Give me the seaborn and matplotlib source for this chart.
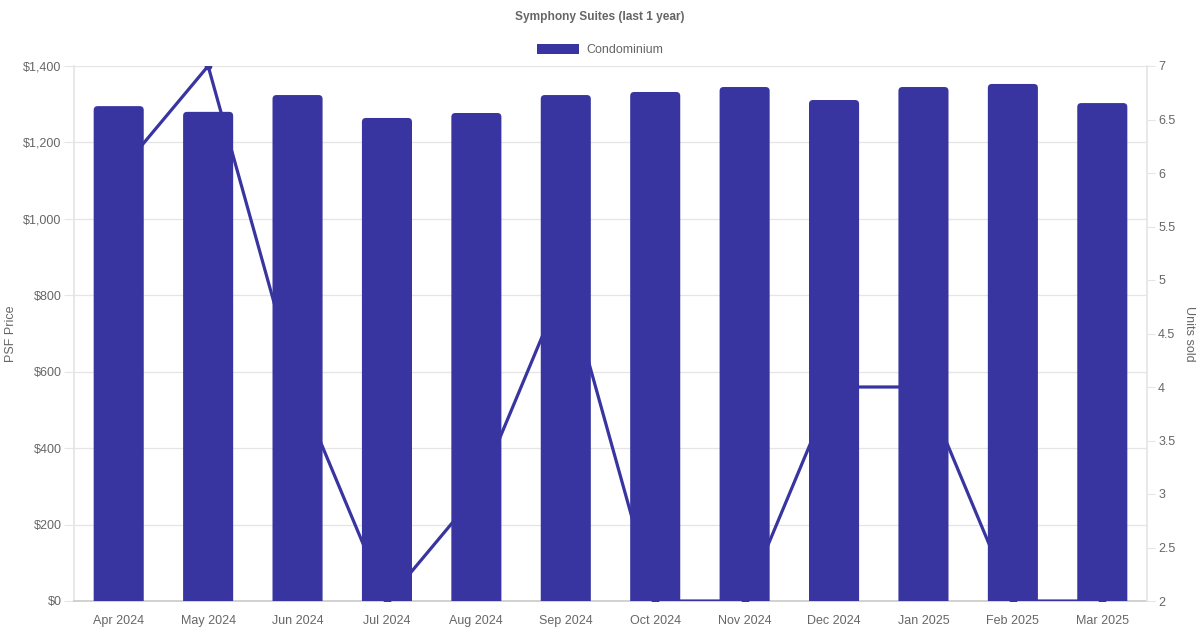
import matplotlib
matplotlib.use("Agg")
import matplotlib.pyplot as plt
import seaborn as sns
import pandas as pd
from matplotlib.patches import FancyBboxPatch, Patch
from matplotlib.ticker import FuncFormatter, MultipleLocator

months = ["Apr 2024", "May 2024", "Jun 2024", "Jul 2024", "Aug 2024", "Sep 2024",
          "Oct 2024", "Nov 2024", "Dec 2024", "Jan 2025", "Feb 2025", "Mar 2025"]
psf_price = [1295, 1280, 1324, 1264, 1277, 1324, 1332, 1345, 1311, 1345, 1353, 1303]
units_sold = [6, 7, 4, 2, 3, 5, 2, 2, 4, 4, 2, 2]

title = "Symphony Suites (last 1 year)"
series_name = "Condominium"

df = pd.DataFrame({"month": months, "psf": psf_price, "units": units_sold})

COLOR = "#3935A0"
TEXT = "#666666"
GRID = "#e5e5e5"
FS = 9

sns.set_theme(style="white")
plt.rcParams["font.family"] = ["Liberation Sans", "DejaVu Sans"]

fig = plt.figure(figsize=(12, 6.3), dpi=100)
rect = [74 / 1200, 1 - 601 / 630, (1147 - 74) / 1200, (601 - 66) / 630]

ax = fig.add_axes(rect)
ax2 = ax.twinx()
ax3 = fig.add_axes(rect, sharex=ax, sharey=ax)
ax3.patch.set_visible(False)

# line (units sold) on right axis, underneath bars
sns.lineplot(data=df, x="month", y="units", ax=ax2, color=COLOR, linewidth=2.3,
             marker="o", markersize=5.5, markeredgewidth=0, sort=False)
ax2.set_ylim(2, 7)
ax2.yaxis.set_major_locator(MultipleLocator(0.5))
ax2.yaxis.set_major_formatter(FuncFormatter(lambda v, p: f"{v:g}"))
ax2.tick_params(axis="y", colors=TEXT, labelsize=FS, length=6, width=0.8, color=GRID, pad=2)
for s in ax2.spines.values():
    s.set_visible(False)
ax2.spines["right"].set_visible(True)
ax2.spines["right"].set_color(GRID)
ax2.set_ylabel("")
fig.text(1189 / 1200, 1 - 334 / 630, "Units sold", rotation=270, ha="center", va="center",
         color=TEXT, fontsize=FS)

# bars (PSF) on top
sns.barplot(data=df, x="month", y="psf", ax=ax3, color=COLOR, width=0.56,
            saturation=1, linewidth=0)
ax3.set_ylim(0, 1400)
ax3.set_xlim(-0.5, len(months) - 0.5)
ax3.axis("off")

# rounded top corners
xpx = (rect[2] * 1200) / len(months)
ypx = (rect[3] * 630) / 1400
r = 4 / xpx
aspect = xpx / ypx
for p in list(ax3.patches):
    x0, y0 = p.get_x(), p.get_y()
    w, h = p.get_width(), p.get_height()
    p.set_visible(False)
    fb = FancyBboxPatch((x0, y0 - 30), w, h + 30,
                        boxstyle=f"round,pad=0,rounding_size={r}",
                        mutation_aspect=aspect, facecolor=COLOR, edgecolor="none")
    ax3.add_patch(fb)

# main axis
ax.set_ylim(0, 1400)
ax.set_xlim(-0.5, len(months) - 0.5)
ax.yaxis.set_major_locator(MultipleLocator(200))
ax.yaxis.set_major_formatter(FuncFormatter(lambda v, p: f"${v:,.0f}"))
ax.grid(axis="y", color=GRID, linewidth=0.9)
ax.grid(axis="x", visible=False)
ax.set_axisbelow(True)
ax.tick_params(axis="y", colors=TEXT, labelsize=FS, length=7, width=0.8, color=GRID, pad=2)
ax.tick_params(axis="x", colors=TEXT, labelsize=FS, length=0, pad=10)
ax.set_ylabel("")
fig.text(11 / 1200, 1 - 334 / 630, "PSF Price", rotation=90, ha="center", va="center",
         color=TEXT, fontsize=FS)
ax.set_xlabel("")
for s in ["top", "right"]:
    ax.spines[s].set_visible(False)
ax.spines["left"].set_color(GRID)
ax.spines["bottom"].set_color("#cccccc")
ax.set_xticks(range(len(months)))
ax.set_xticklabels(months)
ax2.set_xlabel("")

fig.text(0.5, 1 - 17 / 630, title, ha="center", va="center", fontsize=8.6,
         fontweight="bold", color=TEXT)
handle = Patch(facecolor=COLOR, edgecolor="none")
fig.legend([handle], [series_name], loc="center", bbox_to_anchor=(0.5, 1 - 50 / 630),
           frameon=False, fontsize=FS, handlelength=3.4, handleheight=0.95,
           handletextpad=0.55, labelcolor=TEXT)

fig.savefig("out.png", dpi=100)
